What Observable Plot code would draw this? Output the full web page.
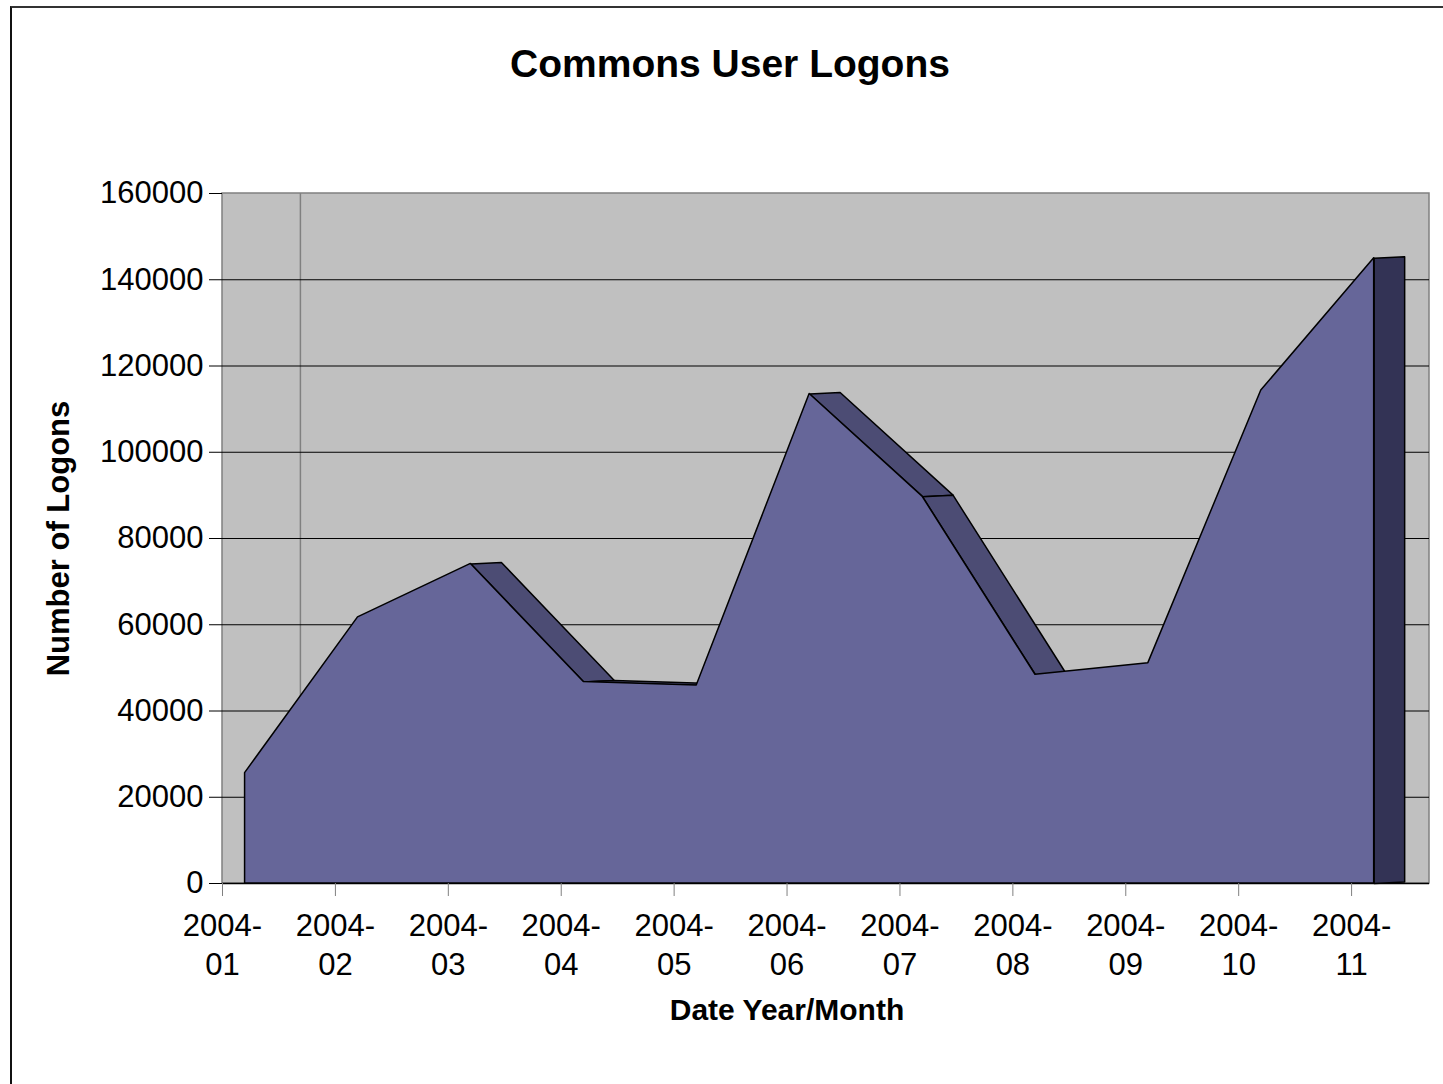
<!DOCTYPE html>
<html><head><meta charset="utf-8">
<script src="https://cdn.jsdelivr.net/npm/d3@7"></script>
<script src="https://cdn.jsdelivr.net/npm/@observablehq/plot@0.6"></script>
<style>
body{margin:0;background:#fff;font-family:"Liberation Sans",Arial,sans-serif;}
#wrap{position:relative;width:1443px;height:1084px;overflow:hidden;background:#fff;}
#border{position:absolute;left:10px;top:6px;width:3000px;height:3000px;border-left:2px solid #111;border-top:2px solid #333;}
#title{position:absolute;left:0;top:44px;width:1460px;text-align:center;font-weight:bold;font-size:39px;line-height:1;color:#000;}
#chart{position:absolute;left:0;top:120px;}
</style></head><body>
<div id="wrap"><div id="border"></div><div id="title">Commons User Logons</div><div id="chart"></div></div>
<script>
const months = ["2004-01","2004-02","2004-03","2004-04","2004-05","2004-06","2004-07","2004-08","2004-09","2004-10","2004-11"];
const logons = [25600, 61700, 74100, 46700, 45900, 113500, 89700, 48400, 51100, 114300, 145000];
const yTicks = [0, 20000, 40000, 60000, 80000, 100000, 120000, 140000, 160000];
const gridTicks = [20000, 40000, 60000, 80000, 100000, 120000, 140000];

// 3D look parameters (in scale units)
const frontShift = 0.2;   // front face offset from category tick
const depthX = 0.27;      // depth offset of back edge (x)
const depthY = 350;       // depth offset of back edge (y)
const wallDepth = 0.69;   // back wall offset
const xMax = months.length - 1 + wallDepth;

const rows = months.map((m, i) => ({i, x: i + frontShift, v: logons[i]}));

const faces = [];
for (let i = 0; i < logons.length - 1; i++) {
  if (logons[i + 1] < logons[i]) {
    const a = {x: i + frontShift, y: logons[i]};
    const b = {x: i + 1 + frontShift, y: logons[i + 1]};
    [a, {x: a.x + depthX, y: a.y + depthY}, {x: b.x + depthX, y: b.y + depthY}, b, a]
      .forEach(p => faces.push({face: i, x: p.x, y: p.y}));
  }
}
const last = logons.length - 1;
const lx = last + frontShift;
const cap = [
  {x: lx, y: 0}, {x: lx, y: logons[last]},
  {x: lx + depthX, y: logons[last] + depthY}, {x: lx + depthX, y: depthY}, {x: lx, y: 0}
];

const chart = Plot.plot({
  width: 1443, height: 964,
  marginLeft: 222, marginRight: 14, marginTop: 73, marginBottom: 201,
  x: {domain: [0, xMax]},
  y: {domain: [0, 160000]},
  style: {fontFamily: "'Liberation Sans', Arial, sans-serif", fontSize: "31px", background: "transparent", overflow: "visible", color: "#000"},
  marks: [
    Plot.rect([{x1: 0, x2: xMax, y1: 0, y2: 160000}], {x1: "x1", x2: "x2", y1: "y1", y2: "y2", fill: "#c0c0c0", stroke: "#808080", strokeWidth: 1.5}),
    Plot.ruleX([wallDepth], {y1: 0, y2: 160000, stroke: "#808080", strokeWidth: 1.5}),
    Plot.ruleY(gridTicks, {x1: 0, x2: xMax, stroke: "#000", strokeWidth: 1}),
    Plot.ruleY([0], {x1: 0, x2: xMax, stroke: "#000", strokeWidth: 1.5}),
    Plot.line(faces, {x: "x", y: "y", z: "face", fill: "#4c4c74", stroke: "#000", strokeWidth: 1.5, curve: "linear"}),
    Plot.areaY(rows, {x: "x", y: "v", fill: "#666699", stroke: "#000", strokeWidth: 1.5}),
    Plot.line(cap, {x: "x", y: "y", fill: "#333355", stroke: "#000", strokeWidth: 1.5, curve: "linear"}),
    Plot.axisY(yTicks, {tickSize: 13, tickPadding: 6, fontSize: 31, tickFormat: d => String(d), label: null, stroke: "#000", fill: "#000"}),
    Plot.axisX(d3.range(months.length), {tickSize: 13, tickPadding: 12, fontSize: 31, lineHeight: 1.26, tickFormat: i => months[i].replace("-", "-\n"), label: null, stroke: "#808080", fill: "#000"}),
    Plot.text(["Number of Logons"], {text: d => d, frameAnchor: "left", textAnchor: "middle", lineAnchor: "middle", dx: -163, rotate: -90, fontSize: 31, fontWeight: "bold", fill: "#000"}),
    Plot.text(["Date Year/Month"], {text: d => d, frameAnchor: "bottom", textAnchor: "middle", lineAnchor: "middle", dx: -39, dy: 127, fontSize: 30, fontWeight: "bold", fill: "#000"})
  ]
});
document.getElementById("chart").appendChild(chart);
</script>
</body></html>
